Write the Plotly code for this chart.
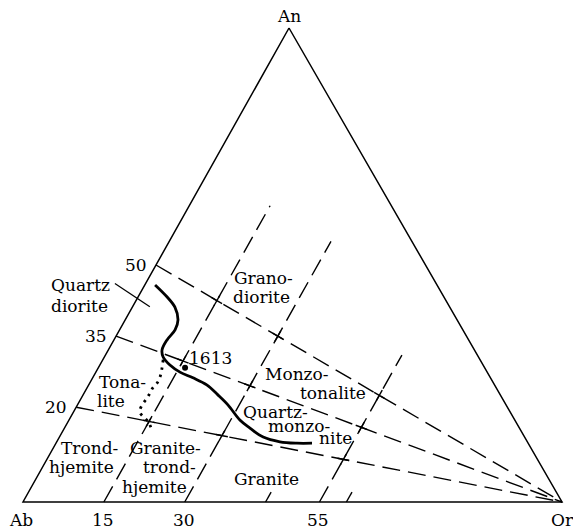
import numpy as np
import plotly.graph_objects as go

# corners of the feldspar triangle
corner_names = ["An", "Ab", "Or"]

# An/(An+Ab) ratios (%) on the Ab-An side, each joined to the Or corner
ratio_ticks = [50, 35, 20]
# constant-Or lines (%) rising from the Ab-Or base, and the An % where each stops
or_ticks = [15, 30, 55]
or_tops = [62.5, 55, 31]
# short marks on the base (Or %)
or_marks = [45, 60]
or_mark_top = 2.1

# solid boundary curve (An %, Or %)
curve_an = [45.8, 43.25, 41.1, 38.4, 36.3, 34.2, 32.1, 30.6, 28.9, 27.4, 26.2,
            24.7, 22.6, 20.5, 17.3, 15.6, 13.7, 12.7, 12.4, 12.4]
curve_or = [1.9, 5.4, 7.9, 9.8, 10.3, 9.85, 9.96, 10.9, 13.0, 15.6, 18.6,
            21.9, 25.0, 27.9, 31.7, 34.4, 37.8, 41.4, 44.7, 47.5]

# dotted boundary (An %, Or %)
dot_an = [30.0, 27.8, 26.4, 25.1, 24.1, 23.0, 21.9, 20.5, 19.0, 16.9, 15.2]
dot_or = [11.2, 12.0, 12.4, 12.5, 12.2, 12.2, 12.2, 12.0, 12.3, 14.9, 16.4]

# sample 1613
sample_name = ["1613"]
sample_an = [28.3]
sample_or = [16.1]

# field names, one entry per printed line (An %, Or % of the line centre)
field_text = ["Quartz", "diorite", "Grano-", "diorite", "Tona-", "lite",
              "Trond-", "hjemite", "Granite-", "trond-", "hjemite",
              "Monzo-", "tonalite", "Quartz-", "monzo-", "nite", "Granite"]
field_an = [45.8, 41.35, 47.2, 43.3, 25.4, 21.4,
            11.3, 7.3, 11.4, 7.4, 3.15,
            26.9, 23.0, 18.9, 16.1, 13.4, 4.85]
field_or = [-12.0, -10.0, 21.4, 22.9, 5.9, 5.85,
            6.8, 7.2, 20.9, 23.6, 22.8,
            37.6, 46.2, 37.5, 43.2, 51.3, 42.7]

# leader from "Quartz diorite" into its field
leader_an = [46.1, 41.2]
leader_or = [-5.7, 3.2]

# pixel frame of the drawing
W, H = 573, 532
LEFT, BASE_Y, SIDE, TALL = 23, 502, 539, 474
APEX_X = 266 / SIDE
FONT = dict(family="DejaVu Serif", size=17, color="black")


def tern(an, orr):
    an = np.asarray(an, dtype=float) / 100
    orr = np.asarray(orr, dtype=float) / 100
    return orr + an * APEX_X, an


def line(x, y, width=1.4, dash="solid", shape="linear"):
    return go.Scatter(x=list(x), y=list(y), mode="lines", hoverinfo="skip", showlegend=False,
                      line=dict(color="black", width=width, dash=dash, shape=shape))


fig = go.Figure()

# triangle
tx, ty = tern([100, 0, 0, 100], [0, 0, 100, 0])
fig.add_trace(line(tx, ty, width=1.5))

DASH = "18px,8px"
xs, ys = [], []
for r in ratio_ticks:
    x, y = tern([r, 0], [0, 100])
    xs += list(x) + [None]
    ys += list(y) + [None]
for c, top in zip(or_ticks, or_tops):
    x, y = tern([0, top], [c, c])
    xs += list(x) + [None]
    ys += list(y) + [None]
fig.add_trace(line(xs, ys, dash=DASH))

# little marks on the base
xs, ys = [], []
for c in or_marks:
    x, y = tern([0, or_mark_top], [c, c])
    xs += list(x) + [None]
    ys += list(y) + [None]
fig.add_trace(line(xs, ys))

# crossings drawn solid
xs, ys = [], []
half = 6
for r in ratio_ticks:
    for c, top in zip(or_ticks, or_tops):
        a = r * (1 - c / 100)
        if a > top:
            continue
        x0, y0 = tern(a, c)
        for p, q in [(tern(top, c), tern(0, c)), (tern(r, 0), tern(0, 100))]:
            dx, dy = q[0] - p[0], q[1] - p[1]
            k = half / np.hypot(dx * SIDE, dy * TALL)
            xs += [x0 - dx * k, x0 + dx * k, None]
            ys += [y0 - dy * k, y0 + dy * k, None]
fig.add_trace(line(xs, ys))

cx, cy = tern(curve_an, curve_or)
fig.add_trace(line(cx, cy, width=2.8, shape="spline"))
dx_, dy_ = tern(dot_an, dot_or)
fig.add_trace(line(dx_, dy_, width=2.8, dash="2.5px,5px", shape="spline"))
lx, ly = tern(leader_an, leader_or)
fig.add_trace(line(lx, ly, width=1.3))

sx, sy = tern(sample_an, sample_or)
fig.add_trace(go.Scatter(x=sx, y=sy, mode="markers", hoverinfo="skip", showlegend=False,
                         marker=dict(color="black", size=6)))

ann = []
# sample label sits up and right of the dot
ann.append(dict(x=sx[0], y=sy[0], text=sample_name[0], xanchor="left", yanchor="bottom",
                xshift=2, yshift=-2))
fx, fy = tern(field_an, field_or)
for t, x, y in zip(field_text, fx, fy):
    ann.append(dict(x=x, y=y, text=t))

# corners
vx, vy = tern([100, 0, 0], [0, 0, 100])
ann.append(dict(x=vx[0], y=vy[0], text=corner_names[0], yanchor="bottom", yshift=0))
ann.append(dict(x=vx[1], y=vy[1], text=corner_names[1], yanchor="top", yshift=-6, xshift=-2))
ann.append(dict(x=vx[2], y=vy[2], text=corner_names[2], yanchor="top", yshift=-6))

# side and base numbers
for r in ratio_ticks:
    x, y = tern(r, 0)
    ann.append(dict(x=float(x), y=float(y), text=str(r), xanchor="right", xshift=-7))
for c in or_ticks:
    x, y = tern(0, c)
    ann.append(dict(x=float(x), y=float(y), text=str(c), yanchor="top", yshift=-6, xshift=-1))

for a in ann:
    a.setdefault("xanchor", "center")
    a.setdefault("yanchor", "middle")
    a["x"] = float(a["x"])
    a["y"] = float(a["y"])
    a.update(showarrow=False, font=FONT, xref="x", yref="y")

fig.update_layout(
    width=W, height=H,
    margin=dict(l=0, r=0, t=0, b=0),
    paper_bgcolor="white", plot_bgcolor="white",
    xaxis=dict(range=[-LEFT / SIDE, (W - LEFT) / SIDE], visible=False),
    yaxis=dict(range=[-(H - BASE_Y) / TALL, BASE_Y / TALL], visible=False),
    annotations=ann,
    showlegend=False,
)

# page body margin would push the figure off its frame
fig.write_html("out.html", config={"displayModeBar": False},
               post_script="document.body.style.margin='0';")
